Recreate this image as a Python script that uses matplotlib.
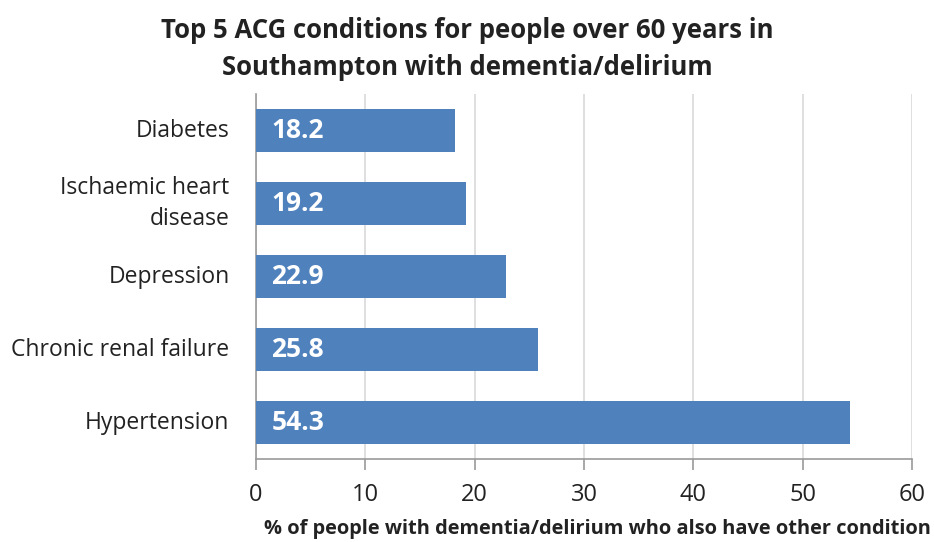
import matplotlib.pyplot as plt

conditions = ["Diabetes", "Ischaemic heart\ndisease", "Depression",
              "Chronic renal failure", "Hypertension"]
percentages = [18.2, 19.2, 22.9, 25.8, 54.3]
x_ticks = [0, 10, 20, 30, 40, 50, 60]

plt.rcParams['font.family'] = ['Open Sans', 'DejaVu Sans']

fig = plt.figure(figsize=(9.34, 5.42), dpi=100)
ax = fig.add_axes([0.2741, 0.1531, 0.7024, 0.6734])

positions = list(range(len(conditions)))
ax.barh(positions, percentages, height=0.58, color='#4F81BD', zorder=3)

# value labels inside the bars, at the left end
for pos, val in zip(positions, percentages):
    ax.text(1.4, pos, f"{val:.1f}", va='center', ha='left', color='white',
            fontsize=19, fontweight='bold', zorder=4)

ax.set_ylim(len(conditions) - 0.5, -0.5)
ax.set_yticks(positions)
ax.set_yticklabels(conditions, fontsize=16.5, color='#222222', linespacing=1.4)
for label in ax.get_yticklabels():
    label.set_verticalalignment('center')
ax.set_xlim(0, 60)
ax.set_xticks(x_ticks)
ax.set_xticklabels([str(t) for t in x_ticks], fontsize=17, color='#222222')

ax.grid(axis='x', color='#d9d9d9', linewidth=1.2, zorder=0)
for side in ['top', 'right']:
    ax.spines[side].set_visible(False)
for side in ['left', 'bottom']:
    ax.spines[side].set_color('#9a9a9a')
    ax.spines[side].set_linewidth(1.2)
ax.tick_params(axis='y', length=0, pad=19)
ax.tick_params(axis='x', length=8, width=1.2, color='#9a9a9a', direction='out', pad=9)

ax.set_xlabel("% of people with dementia/delirium who also have other condition",
              fontsize=14.4, fontweight='bold', color='#222222')
ax.xaxis.set_label_coords(0.521, -0.163)

fig.suptitle("Top 5 ACG conditions for people over 60 years in\nSouthampton with dementia/delirium",
             fontsize=18.5, fontweight='bold', color='#222222', y=0.968, linespacing=1.45)

fig.savefig("out.png", dpi=100)
